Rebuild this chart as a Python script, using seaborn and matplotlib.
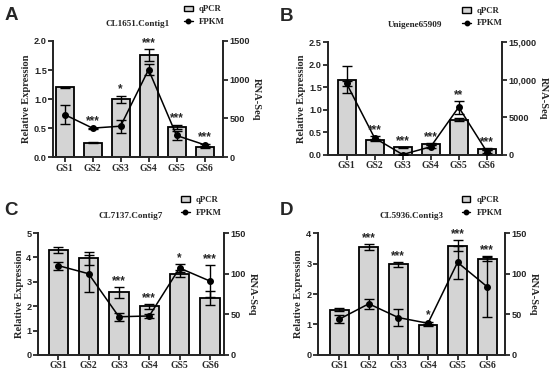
import numpy as np
import matplotlib
matplotlib.use('Agg')
import matplotlib.pyplot as plt
import seaborn as sns
from matplotlib.patches import Patch
from matplotlib.lines import Line2D
from matplotlib.ticker import FuncFormatter

sns.set_style('ticks')
plt.rcParams['font.family'] = ['Liberation Sans', 'DejaVu Sans']

cats = ['GS1', 'GS2', 'GS3', 'GS4', 'GS5', 'GS6']

a_qpcr = [1.20, 0.25, 1.00, 1.76, 0.52, 0.17]
a_qpcr_err = [0.01, 0.01, 0.06, 0.10, 0.04, 0.01]
a_fpkm = [550, 375, 400, 1130, 280, 160]
a_fpkm_err = [120, 8, 85, 75, 60, 15]
a_sig = ['', '***', '*', '***', '***', '***']

b_qpcr = [1.67, 0.33, 0.17, 0.24, 0.78, 0.13]
b_qpcr_err = [0.30, 0.03, 0.01, 0.03, 0.03, 0.02]
b_fpkm = [9500, 2250, 50, 1080, 6350, 450]
b_fpkm_err = [300, 250, 30, 200, 850, 150]
b_sig = ['', '***', '***', '***', '**', '***']

c_qpcr = [4.31, 3.96, 2.57, 2.00, 3.33, 2.34]
c_qpcr_err = [0.14, 0.25, 0.23, 0.10, 0.15, 0.30]
c_fpkm = [110, 100, 47, 48, 107, 91]
c_fpkm_err = [5, 23, 5, 3, 5, 20]
c_sig = ['', '', '***', '***', '*', '***']

d_qpcr = [1.48, 3.53, 2.97, 0.99, 3.58, 3.16]
d_qpcr_err = [0.05, 0.10, 0.08, 0.03, 0.18, 0.08]
d_fpkm = [44, 63, 46, 39, 114, 84]
d_fpkm_err = [5, 6, 10, 2, 20, 37]
d_sig = ['', '***', '***', '*', '***', '***']

panels = [
    dict(letter='A', title='CL1651.Contig1', q=a_qpcr, qe=a_qpcr_err, f=a_fpkm, fe=a_fpkm_err,
         sig=a_sig, lmax=2.0, lstep=0.5, rmax=1500, rstep=500, lfmt='{:.1f}',
         pos=[0.097, 0.582, 0.308, 0.309], xlim=(-0.4, 5.65), letter_xy=(0.008, 0.96)),
    dict(letter='B', title='Unigene65909', q=b_qpcr, qe=b_qpcr_err, f=b_fpkm, fe=b_fpkm_err,
         sig=b_sig, lmax=2.5, lstep=0.5, rmax=15000, rstep=5000, lfmt='{:.1f}',
         pos=[0.597, 0.588, 0.316, 0.300], xlim=(-0.65, 5.55), letter_xy=(0.508, 0.955)),
    dict(letter='C', title='CL7137.Contig7', q=c_qpcr, qe=c_qpcr_err, f=c_fpkm, fe=c_fpkm_err,
         sig=c_sig, lmax=5, lstep=1, rmax=150, rstep=50, lfmt='{:.0f}',
         pos=[0.069, 0.056, 0.338, 0.324], xlim=(-0.67, 5.46), letter_xy=(0.008, 0.44)),
    dict(letter='D', title='CL5936.Contig3', q=d_qpcr, qe=d_qpcr_err, f=d_fpkm, fe=d_fpkm_err,
         sig=d_sig, lmax=4, lstep=1, rmax=150, rstep=50, lfmt='{:.0f}',
         pos=[0.578, 0.056, 0.340, 0.324], xlim=(-0.72, 5.6), letter_xy=(0.508, 0.44)),
]

serif = ['Liberation Serif', 'DejaVu Serif']
bar_color = '#d4d4d4'


def right_fmt(v, _):
    v = int(round(v))
    if v >= 10000:
        return f'{v:,}'
    return str(v)


fig = plt.figure(figsize=(5.5, 3.76), dpi=100)

for p in panels:
    ax = fig.add_axes(p['pos'])
    x = np.arange(len(cats))
    sns.barplot(x=cats, y=p['q'], color=bar_color, edgecolor='black', linewidth=1.3,
                width=0.64, errorbar=None, ax=ax, zorder=2)
    ax.errorbar(x, p['q'], yerr=p['qe'], fmt='none', ecolor='black', elinewidth=1.0,
                capsize=3.5, capthick=1.0, zorder=3)
    ax.set_xlim(*p['xlim'])
    ax.set_ylim(0, p['lmax'])
    ax.set_yticks(np.arange(0, p['lmax'] + 1e-9, p['lstep']))
    ax.set_yticklabels([p['lfmt'].format(v) for v in ax.get_yticks()])

    ax2 = ax.twinx()
    ax2.errorbar(x, p['f'], yerr=p['fe'], fmt='-o', color='black', markersize=4,
                 linewidth=1.1, elinewidth=1.0, capsize=3.5, capthick=1.0, zorder=4)
    ax2.set_ylim(0, p['rmax'])
    ax2.set_yticks(np.arange(0, p['rmax'] + 1, p['rstep']))
    ax2.yaxis.set_major_formatter(FuncFormatter(right_fmt))

    scale = p['lmax'] / p['rmax']
    for i, s in enumerate(p['sig']):
        if not s:
            continue
        top = max(p['q'][i] + p['qe'][i], (p['f'][i] + p['fe'][i]) * scale)
        ax2.text(i, top / scale, s, ha='center', va='bottom',
                 fontsize=8.5, fontweight='bold', zorder=5)

    for a in (ax, ax2):
        a.spines['top'].set_visible(False)
        for side in ('left', 'right', 'bottom'):
            a.spines[side].set_linewidth(1.3)
        a.tick_params(width=1.3, length=3.5, labelsize=6.6, pad=1.2)
        for lab in a.get_yticklabels():
            lab.set_fontweight('bold')
    ax.set_xticks(x)
    ax.set_xticklabels(cats, family=serif, fontweight='bold', fontsize=6.9)

    ax.set_ylabel('Relative Expression', family=serif, fontweight='bold', fontsize=7.6, labelpad=2)
    ax2.set_ylabel('RNA-Seq', family=serif, fontweight='bold', fontsize=7.6, rotation=270,
                   labelpad=8)
    ax.set_title(p['title'], family=serif, fontweight='bold', fontsize=6.6, pad=11)

    handles = [Patch(facecolor=bar_color, edgecolor='black', linewidth=1.0, label='qPCR'),
               Line2D([0], [0], color='black', marker='o', markersize=3.2, linewidth=1.0,
                      label='FPKM')]
    ax.legend(handles=handles, loc='center left', bbox_to_anchor=(0.74, 1.22), frameon=False,
              prop={'family': serif, 'weight': 'bold', 'size': 6.3}, handlelength=1.0,
              handleheight=0.55, labelspacing=0.5, borderpad=0.1, handletextpad=0.7)

    fig.text(*p['letter_xy'], p['letter'], fontsize=13.5, fontweight='bold',
             ha='left', va='center')

fig.savefig('out.png', dpi=100)
